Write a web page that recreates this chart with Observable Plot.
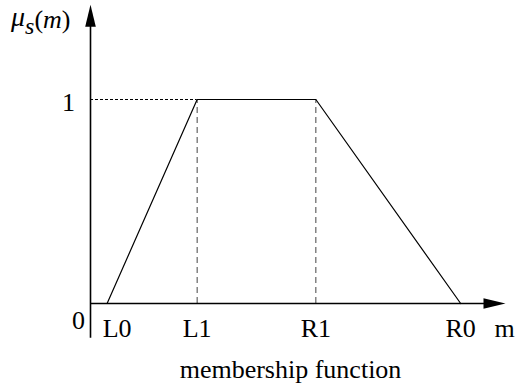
<!DOCTYPE html>
<html>
<head>
<meta charset="utf-8">
<script src="https://cdn.jsdelivr.net/npm/d3@7"></script>
<script src="https://cdn.jsdelivr.net/npm/@observablehq/plot@0.6"></script>
<style>
  html, body { margin: 0; padding: 0; background: #fff; }
  svg { display: block; }
  #chart svg text, #chart svg tspan { font-family: "Liberation Serif", "Times New Roman", Times, serif !important; }
</style>
</head>
<body>
<div id="chart"></div>
<script>
// Trapezoidal membership function: breakpoints on the m axis and their grades
const breakNames = ["L0", "L1", "R1", "R0"];
const breakM = [0.4, 2.57, 5.43, 8.92];
const grades = [0, 1, 1, 0];

// Axis extents (arrow tips) and the grade tick labels
const mMax = 10;
const muMax = 1.465;
const muMin = -0.17;
const gradeTicks = [0, 1];
const gradeLabels = ["0", "1"];

const points = breakNames.map((name, i) => ({name, m: breakM[i], mu: grades[i]}));
const shoulders = points.filter(d => d.mu === 1);

const serif = "Liberation Serif, Times New Roman, serif";
const fs = 26;

// Slender filled arrowhead, tip at the anchor, pointing up
const arrowHead = {
  draw(ctx) {
    ctx.moveTo(0, 0);
    ctx.lineTo(-5.3, 22);
    ctx.lineTo(5.3, 22);
    ctx.closePath();
  }
};

const chart = Plot.plot({
  width: 518,
  height: 383,
  margin: 0,
  style: {fontFamily: serif, background: "#fff", color: "#000"},
  x: {domain: [0, mMax], range: [90, 505], axis: null},
  y: {domain: [0, 1], range: [303, 99], axis: null},
  marks: [
    // dotted guide from the μ axis to the first shoulder at grade 1
    Plot.ruleY([1], {x1: 0, x2: shoulders[0].m, stroke: "#000", strokeWidth: 1, strokeDasharray: "3,2"}),
    // dashed drops from the shoulders to the m axis
    Plot.ruleX(shoulders, {x: "m", y1: 0, y2: "mu", stroke: "#444", strokeWidth: 1, strokeDasharray: "6,4"}),
    // axes
    Plot.ruleY([0], {x1: 0, x2: mMax - 0.3, stroke: "#000", strokeWidth: 1.6}),
    Plot.ruleX([0], {y1: muMin, y2: muMax - 0.05, stroke: "#000", strokeWidth: 1.6}),
    Plot.dot([{m: 0, mu: muMax, r: 0}, {m: mMax, mu: 0, r: 90}], {
      x: "m", y: "mu", rotate: "r", symbol: arrowHead, fill: "#000", stroke: "none", r: 5
    }),
    // the membership curve
    Plot.line(points, {x: "m", y: "mu", stroke: "#000", strokeWidth: 1.2}),
    // breakpoint labels under the m axis (the first one nudged clear of the μ axis)
    Plot.text(points.slice(0, 1), {x: "m", y: 0, text: "name", dx: 10, dy: 33, lineAnchor: "bottom", fontSize: fs, fill: "#000"}),
    Plot.text(points.slice(1), {x: "m", y: 0, text: "name", dy: 33, lineAnchor: "bottom", fontSize: fs, fill: "#000"}),
    Plot.text(["m"], {x: mMax, y: 0, text: d => d, dx: -1, dy: 33, lineAnchor: "bottom", fontSize: fs, fill: "#000"}),
    // grade labels left of the μ axis
    Plot.text([gradeTicks[0]], {x: 0, y: d => d, text: () => gradeLabels[0], dx: -12, dy: 25, lineAnchor: "bottom", fontSize: fs, fill: "#000"}),
    Plot.text([gradeTicks[1]], {x: 0, y: d => d, text: () => gradeLabels[1], dx: -22, dy: 11, lineAnchor: "bottom", fontSize: fs, fill: "#000"}),
    // caption
    Plot.text(["membership function"], {frameAnchor: "bottom", x: 4.82, text: d => d, dy: -6, fontSize: fs, fill: "#000"})
  ]
});

// μ_s(m) axis title with an italic subscript
const t = d3.select(chart).append("text")
  .attr("x", 11).attr("y", 26)
  .attr("text-anchor", "start")
  .attr("font-size", fs).attr("fill", "#000");
t.append("tspan").attr("font-style", "italic").attr("font-size", 28).text("μ");
t.append("tspan").attr("font-style", "italic").attr("font-size", 24).attr("dy", 8).text("s");
t.append("tspan").attr("dy", -6).text("(");
t.append("tspan").attr("font-style", "italic").text("m");
t.append("tspan").text(")");

document.getElementById("chart").appendChild(chart);
</script>
</body>
</html>
